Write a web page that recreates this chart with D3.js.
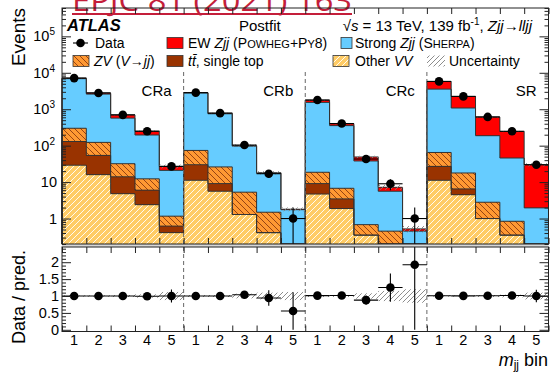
<!DOCTYPE html>
<html>
<head>
<meta charset="utf-8">
<script src="https://cdn.jsdelivr.net/npm/d3@7"></script>
<style>
body { margin: 0; background: #fff; }
svg { display: block; font-family: "Liberation Sans", Arial, sans-serif; }
</style>
</head>
<body>
<svg width="551" height="372"></svg>
<script>
var regions = ["CRa", "CRb", "CRc", "SR"];
var binLabels = ["1", "2", "3", "4", "5"];

// postfit yields per m_jj bin (CRa 1-5, CRb 1-5, CRc 1-5, SR 1-5)
var otherVV   = [29, 16, 4.8, 2.4, 0.41,  11.2, 5.6, 1.29, 0.41, 0.05,  4.7, 1.88, 0.35, 0.1, 0.05,  11.2, 4.5, 1.0, 0.35, 0.08];
var ttbar     = [101, 38, 9.2, 3.6, 0.21,  18.8, 3.5, 0, 0, 0,  4.4, 1.58, 0, 0, 0,  15.8, 2.0, 0, 0, 0];
var zvJets    = [170, 69, 18, 6.3, 0.54,  44, 17, 4.0, 1.08, 0.05,  9.5, 3.3, 0.33, 0.35, 0.1,  38, 11.3, 1.8, 0.49, 0.1];
var strongZjj = [6600, 2477, 538, 184, 19.8,  2726, 724, 92, 16.0, 1.65,  1521, 348, 37.3, 5.15, 0.3,  3495, 1062, 185, 45, 1.78];
var ewZjj     = [250, 200, 130, 54, 6,  50, 30, 3, 0.6, 0.05,  230, 45, 11, 1.6, 0.07,  2200, 1160, 422, 199, 28];
var dataEvents = [7150, 2800, 700, 248, 27,  2850, 780, 104, 17, 1,  1790, 405, 43, 9, 1,  5800, 2250, 615, 248, 30];
// relative uncertainty of the prediction
var relUnc = [0.02, 0.02, 0.03, 0.05, 0.12,  0.03, 0.03, 0.07, 0.1, 0.12,  0.03, 0.03, 0.08, 0.15, 0.2,  0.02, 0.02, 0.03, 0.04, 0.1];

var left = 62, right = 548.5;
var mainTop = 8, mainBottom = 244;
var ratioTop = 247, ratioBottom = 331.5;
var nBins = dataEvents.length;

var svg = d3.select("svg");
var defs = svg.append("defs");

function hatch(id, bg, color, dir, s, w) {
  var p = defs.append("pattern").attr("id", id)
    .attr("patternUnits", "userSpaceOnUse")
    .attr("width", s).attr("height", s);
  if (bg) p.append("rect").attr("width", s).attr("height", s).attr("fill", bg);
  var d;
  if (dir == "/") {
    d = "M0," + s + "L" + s + ",0M" + (-s / 2) + "," + (s / 2) + "L" + (s / 2) + "," + (-s / 2) +
        "M" + (s / 2) + "," + (1.5 * s) + "L" + (1.5 * s) + "," + (s / 2);
  } else {
    d = "M0,0L" + s + "," + s + "M" + (-s / 2) + "," + (s / 2) + "L" + (s / 2) + "," + (1.5 * s) +
        "M" + (s / 2) + "," + (-s / 2) + "L" + (1.5 * s) + "," + (s / 2);
  }
  p.append("path").attr("d", d).attr("stroke", color).attr("stroke-width", w);
}
hatch("hZV", "#ff9933", "#8b3a10", "\\", 6, 0.9);
hatch("hVV", "#ffcc66", "#ffffff", "/", 6, 0.9);
hatch("hUnc", null, "#808080", "/", 5, 0.9);

defs.append("clipPath").attr("id", "clipRatio")
  .append("rect").attr("x", left).attr("y", ratioTop)
  .attr("width", right - left).attr("height", ratioBottom - ratioTop);

var x = d3.scaleLinear().domain([0, nBins]).range([left, right]);
var y = d3.scaleLog().domain([0.2, 6e5]).range([mainBottom, mainTop]).clamp(true);
var yr = d3.scaleLinear().domain([-0.05, 2.45]).range([ratioBottom, ratioTop]);
function yv(v) { return y(Math.max(v, 0.2)); }

// red journal reference on top
svg.append("text").attr("x", 72).attr("y", 11)
  .attr("font-family", "'Open Sans', 'Liberation Sans', sans-serif")
  .attr("font-size", 30).attr("fill", "#c41e3a")
  .attr("textLength", 280).attr("lengthAdjust", "spacingAndGlyphs")
  .text("EPJC 81 (2021) 163");
svg.append("line").attr("x1", 72).attr("x2", 352).attr("y1", 14).attr("y2", 14)
  .attr("stroke", "#c41e3a").attr("stroke-width", 2);

// stacked predictions
var keys = ["vv", "tt", "zv", "strong", "ew"];
var fills = { vv: "url(#hVV)", tt: "#993300", zv: "url(#hZV)", strong: "#66ccff", ew: "#ff0000" };
var rows = d3.range(nBins).map(function(i) {
  return { vv: otherVV[i], tt: ttbar[i], zv: zvJets[i], strong: strongZjj[i], ew: ewZjj[i] };
});
var layers = d3.stack().keys(keys)(rows);

var gStack = svg.append("g");
layers.forEach(function(layer) {
  gStack.selectAll(null).data(layer).enter().append("rect")
    .attr("x", function(d, i) { return x(i); })
    .attr("width", function(d, i) { return x(i + 1) - x(i); })
    .attr("y", function(d) { return yv(d[1]); })
    .attr("height", function(d) { return yv(d[0]) - yv(d[1]); })
    .attr("fill", fills[layer.key])
    .attr("shape-rendering", "crispEdges");
});
layers.forEach(function(layer) {
  var p = "M" + x(0) + "," + mainBottom;
  layer.forEach(function(d, i) {
    p += "L" + x(i) + "," + yv(d[1]) + "L" + x(i + 1) + "," + yv(d[1]);
  });
  p += "L" + x(nBins) + "," + mainBottom;
  gStack.append("path").attr("d", p).attr("fill", "none")
    .attr("stroke", "#333").attr("stroke-width", 1);
});

var total = rows.map(function(r) { return r.vv + r.tt + r.zv + r.strong + r.ew; });

// uncertainty band
svg.append("g").selectAll("rect").data(total).enter().append("rect")
  .attr("x", function(d, i) { return x(i); })
  .attr("width", function(d, i) { return x(i + 1) - x(i); })
  .attr("y", function(d, i) { return yv(d * (1 + relUnc[i])); })
  .attr("height", function(d, i) { return yv(d * (1 - relUnc[i])) - yv(d * (1 + relUnc[i])); })
  .attr("fill", "url(#hUnc)");

// region separators
[5, 10, 15].forEach(function(b) {
  svg.append("line").attr("x1", x(b)).attr("x2", x(b)).attr("y1", 72).attr("y2", mainBottom)
    .attr("stroke", "#666").attr("stroke-dasharray", "4,3");
  svg.append("line").attr("x1", x(b)).attr("x2", x(b)).attr("y1", ratioTop).attr("y2", ratioBottom)
    .attr("stroke", "#666").attr("stroke-dasharray", "4,3");
});

// data points, main panel
var gData = svg.append("g");
dataEvents.forEach(function(d, i) {
  var cx = (x(i) + x(i + 1)) / 2, e = Math.sqrt(d);
  gData.append("line").attr("x1", x(i)).attr("x2", x(i + 1)).attr("y1", yv(d)).attr("y2", yv(d))
    .attr("stroke", "#000").attr("stroke-width", 1.1);
  gData.append("line").attr("x1", cx).attr("x2", cx).attr("y1", yv(d - e)).attr("y2", yv(d + e))
    .attr("stroke", "#000").attr("stroke-width", 1.1);
  gData.append("circle").attr("cx", cx).attr("cy", yv(d)).attr("r", 4.3).attr("fill", "#000");
});

// region labels
regions.forEach(function(r, k) {
  svg.append("text").attr("x", x(k * 5 + 5) - 12).attr("y", 96)
    .attr("text-anchor", "end").attr("font-size", 15).text(r);
});

// ratio panel
var gR = svg.append("g").attr("clip-path", "url(#clipRatio)");
gR.selectAll("rect").data(relUnc).enter().append("rect")
  .attr("x", function(d, i) { return x(i); })
  .attr("width", function(d, i) { return x(i + 1) - x(i); })
  .attr("y", function(d) { return yr(1 + d); })
  .attr("height", function(d) { return yr(1 - d) - yr(1 + d); })
  .attr("fill", "url(#hUnc)");
dataEvents.forEach(function(d, i) {
  var r = d / total[i], e = Math.sqrt(d) / total[i];
  var cx = (x(i) + x(i + 1)) / 2;
  gR.append("line").attr("x1", x(i)).attr("x2", x(i + 1)).attr("y1", yr(r)).attr("y2", yr(r))
    .attr("stroke", "#000").attr("stroke-width", 1.1);
  gR.append("line").attr("x1", cx).attr("x2", cx).attr("y1", yr(r - e)).attr("y2", yr(r + e))
    .attr("stroke", "#000").attr("stroke-width", 1.1);
  gR.append("circle").attr("cx", cx).attr("cy", yr(r)).attr("r", 4.3).attr("fill", "#000");
});

// frames
svg.append("rect").attr("x", left).attr("y", mainBottom).attr("width", right - left)
  .attr("height", ratioTop - mainBottom).attr("fill", "#d8d8d8");
svg.append("rect").attr("x", left).attr("y", mainTop).attr("width", right - left)
  .attr("height", mainBottom - mainTop).attr("fill", "none").attr("stroke", "#222");
svg.append("rect").attr("x", left).attr("y", ratioTop).attr("width", right - left)
  .attr("height", ratioBottom - ratioTop).attr("fill", "none").attr("stroke", "#222");

function cleanAxis(g) { g.select(".domain").remove(); g.selectAll("text").remove(); g.selectAll("line").attr("stroke", "#222"); }

// log y ticks
var majors = [1, 10, 100, 1000, 1e4, 1e5];
var minors = y.ticks().filter(function(t) { return majors.indexOf(t) < 0; });
svg.append("g").attr("transform", "translate(" + left + ",0)")
  .call(d3.axisRight(y).tickValues(minors).tickSize(4)).call(cleanAxis);
svg.append("g").attr("transform", "translate(" + left + ",0)")
  .call(d3.axisRight(y).tickValues(majors).tickSize(9)).call(cleanAxis);
svg.append("g").attr("transform", "translate(" + right + ",0)")
  .call(d3.axisLeft(y).tickValues(minors).tickSize(4)).call(cleanAxis);
svg.append("g").attr("transform", "translate(" + right + ",0)")
  .call(d3.axisLeft(y).tickValues(majors).tickSize(9)).call(cleanAxis);

majors.forEach(function(m) {
  var p = Math.round(Math.log10(m));
  var t = svg.append("text").attr("y", y(m) + 5).attr("font-size", 14.5);
  if (p < 2) {
    t.attr("x", 57).attr("text-anchor", "end").text(String(m));
  } else {
    t.attr("x", 55).attr("text-anchor", "end");
    t.append("tspan").text("10");
    t.append("tspan").attr("font-size", 10).attr("dy", -6).text(String(p));
  }
});

// ratio y ticks
var rMajors = [0, 0.5, 1, 1.5, 2];
var rMinors = d3.range(0, 2.45, 0.1).filter(function(v) { return Math.abs(v * 2 - Math.round(v * 2)) > 1e-6; });
[[d3.axisRight, left], [d3.axisLeft, right]].forEach(function(a) {
  svg.append("g").attr("transform", "translate(" + a[1] + ",0)")
    .call(a[0](yr).tickValues(rMinors).tickSize(4)).call(cleanAxis);
  svg.append("g").attr("transform", "translate(" + a[1] + ",0)")
    .call(a[0](yr).tickValues(rMajors).tickSize(9)).call(cleanAxis);
});
rMajors.forEach(function(v) {
  svg.append("text").attr("x", 59).attr("y", yr(v) + 5).attr("text-anchor", "end")
    .attr("font-size", 14.5).text(String(v));
});

// x ticks at bin edges
var edges = d3.range(0, nBins + 1);
[[d3.axisBottom, mainTop], [d3.axisTop, mainBottom], [d3.axisBottom, ratioTop], [d3.axisTop, ratioBottom]].forEach(function(a) {
  svg.append("g").attr("transform", "translate(0," + a[1] + ")")
    .call(a[0](x).tickValues(edges).tickSize(6)).call(cleanAxis);
});
d3.range(nBins).forEach(function(i) {
  svg.append("text").attr("x", (x(i) + x(i + 1)) / 2).attr("y", 345)
    .attr("text-anchor", "middle").attr("font-size", 14.5).text(binLabels[i % 5]);
});

// axis titles
svg.append("text").attr("transform", "translate(25,8) rotate(-90)")
  .attr("text-anchor", "end").attr("font-size", 19).text("Events");
svg.append("text").attr("transform", "translate(25,297) rotate(-90)")
  .attr("text-anchor", "middle").attr("font-size", 18).text("Data / pred.");
var xt = svg.append("text").attr("x", 548).attr("y", 366).attr("text-anchor", "end").attr("font-size", 18);
xt.append("tspan").attr("font-style", "italic").text("m");
xt.append("tspan").attr("font-size", 12).attr("dy", 3).text("jj");
xt.append("tspan").attr("dy", -3).text(" bin");

// header
svg.append("text").attr("x", 67).attr("y", 31).attr("font-size", 16.5)
  .attr("font-weight", "bold").attr("font-style", "italic").text("ATLAS");
svg.append("text").attr("x", 239).attr("y", 31).attr("font-size", 15).text("Postfit");
var hd = svg.append("text").attr("x", 532).attr("y", 31).attr("text-anchor", "end").attr("font-size", 15);
hd.append("tspan").text("\u221A");
hd.append("tspan").attr("font-style", "italic").text("s");
hd.append("tspan").text(" = 13 TeV, 139 fb");
hd.append("tspan").attr("font-size", 10).attr("dy", -6).text("-1");
hd.append("tspan").attr("dy", 6).text(", ");
hd.append("tspan").attr("font-style", "italic").text("Zjj");
hd.append("tspan").text("\u2192");
hd.append("tspan").attr("font-style", "italic").text("lljj");

// legend
var lg = svg.append("g").attr("font-size", 14);
lg.append("line").attr("x1", 73).attr("x2", 88).attr("y1", 43).attr("y2", 43).attr("stroke", "#000").attr("stroke-width", 1.1);
lg.append("circle").attr("cx", 80.5).attr("cy", 43).attr("r", 4.3).attr("fill", "#000");
lg.append("text").attr("x", 95).attr("y", 48).text("Data");

function box(x0, x1, yc, fill, stroke) {
  lg.append("rect").attr("x", x0).attr("y", yc - 5.5).attr("width", x1 - x0).attr("height", 11)
    .attr("fill", fill).attr("stroke", stroke ? "#333" : "none").attr("stroke-width", 0.8);
}
box(167, 183, 43, "#ff0000", true);
var t1 = lg.append("text").attr("x", 188).attr("y", 48);
t1.append("tspan").text("EW ");
t1.append("tspan").attr("font-style", "italic").text("Zjj");
t1.append("tspan").text(" (P");
t1.append("tspan").attr("font-size", 11).text("OWHEG");
t1.append("tspan").text("+P");
t1.append("tspan").attr("font-size", 11).text("Y");
t1.append("tspan").text("8)");

box(341, 352, 43, "#66ccff", true);
var t2 = lg.append("text").attr("x", 355).attr("y", 48);
t2.append("tspan").text("Strong ");
t2.append("tspan").attr("font-style", "italic").text("Zjj");
t2.append("tspan").text(" (S");
t2.append("tspan").attr("font-size", 11).text("HERPA");
t2.append("tspan").text(")");

box(73, 89, 61, "url(#hZV)", true);
var t3 = lg.append("text").attr("x", 94).attr("y", 66);
t3.append("tspan").attr("font-style", "italic").text("ZV");
t3.append("tspan").text(" (");
t3.append("tspan").attr("font-style", "italic").text("V");
t3.append("tspan").text("\u2192");
t3.append("tspan").attr("font-style", "italic").text("jj");
t3.append("tspan").text(")");

box(167, 183, 61, "#993300", true);
var t4 = lg.append("text").attr("x", 188).attr("y", 66);
t4.append("tspan").attr("font-style", "italic").text("t");
t4.append("tspan").attr("font-style", "italic").text("t\u0304");
t4.append("tspan").text(", single top");

box(333, 349, 61, "url(#hVV)", true);
var t5 = lg.append("text").attr("x", 355).attr("y", 66);
t5.append("tspan").text("Other ");
t5.append("tspan").attr("font-style", "italic").text("VV");

box(427, 445, 61, "url(#hUnc)", false);
lg.append("text").attr("x", 449).attr("y", 66).text("Uncertainty");
</script>
</body>
</html>
